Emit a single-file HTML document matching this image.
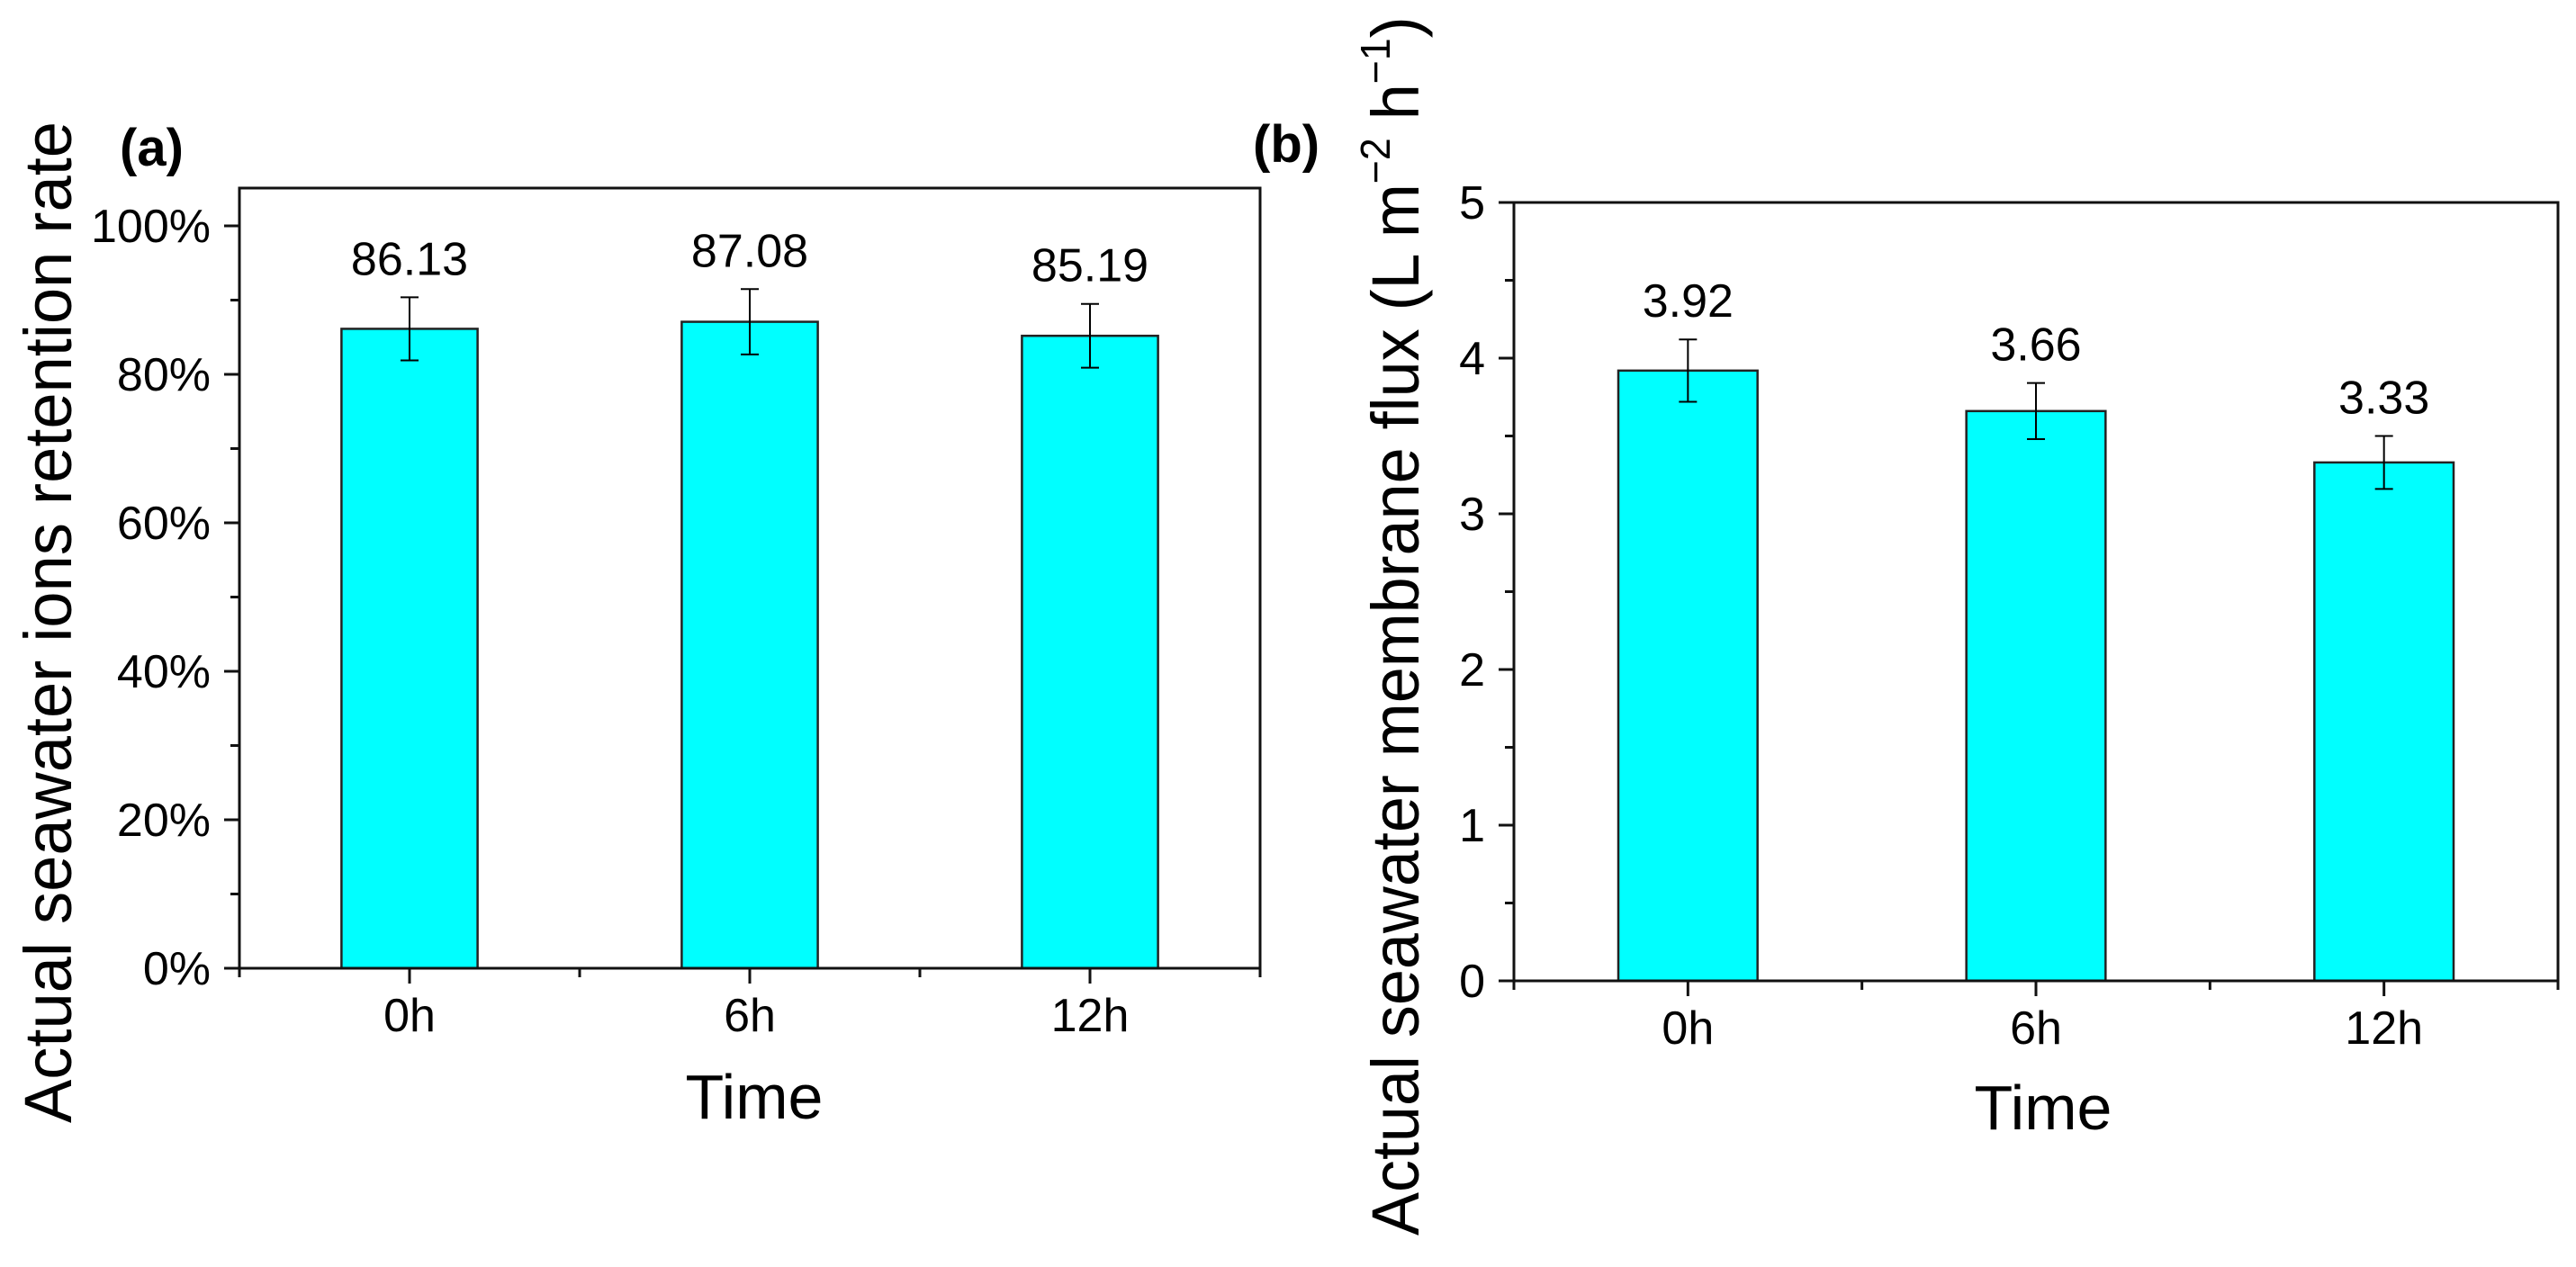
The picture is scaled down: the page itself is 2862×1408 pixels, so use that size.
<!DOCTYPE html>
<html><head><meta charset="utf-8"><style>
html,body{margin:0;padding:0;background:#fff;}
svg{display:block;font-family:"Liberation Sans",Arial,sans-serif;}
</style></head><body>
<svg id="fig" width="2862" height="1408" viewBox="0 0 2862 1408" xmlns="http://www.w3.org/2000/svg">
<text x="133" y="184" font-size="58" font-weight="bold">(a)</text>
<text x="1392" y="180" font-size="58" font-weight="bold">(b)</text>
<text transform="translate(79,1248) rotate(-90)" font-size="74" textLength="1113" lengthAdjust="spacingAndGlyphs">Actual seawater ions retention rate</text>
<g transform="translate(1576,1373) rotate(-90)"><text id="ytb" font-size="74">Actual seawater membrane flux (L m<tspan font-size="46" dy="-32">−2</tspan><tspan dy="32"> h</tspan><tspan font-size="46" dy="-32">−1</tspan><tspan dy="32">)</tspan></text></g>
<text x="838" y="1243" font-size="70" text-anchor="middle">Time</text>
<text x="2270" y="1255" font-size="70" text-anchor="middle">Time</text>
<g id="pa"></g><g id="pb"></g>
</svg>
<script>
const categories = ["0h", "6h", "12h"];
const retentionValues = [86.13, 87.08, 85.19];
const retentionErrors = [4.25, 4.4, 4.3];
const retentionLabels = ["86.13", "87.08", "85.19"];
const retentionTicks = [0, 20, 40, 60, 80, 100];
const retentionTickLabels = ["0%", "20%", "40%", "60%", "80%", "100%"];
const fluxValues = [3.92, 3.66, 3.33];
const fluxErrors = [0.2, 0.18, 0.17];
const fluxLabels = ["3.92", "3.66", "3.33"];
const fluxTicks = [0, 1, 2, 3, 4, 5];
const fluxTickLabels = ["0", "1", "2", "3", "4", "5"];

const NS = "http://www.w3.org/2000/svg";
function mk(parent, tag, attrs, text) {
  const e = document.createElementNS(NS, tag);
  for (const k in attrs) e.setAttribute(k, attrs[k]);
  if (text !== undefined) e.textContent = text;
  parent.appendChild(e);
  return e;
}

function drawPanel(g, cfg) {
  const {x0, x1, yMin, yAxisTop, yZeroPx, yPerUnit, vals, errs, labels, ticks, tickLabels, minorStep, pre} = cfg;
  const y = v => yZeroPx - (v - yMin) * yPerUnit;
  const n = categories.length;
  const band = (x1 - x0) / n;
  const xc = i => x0 + band * (i + 0.5);
  const bw = band * 0.4;
  vals.forEach((v, i) => {
    const r = mk(g, "rect", {x: xc(i) - bw / 2, y: y(v), width: bw, height: y(yMin) - y(v), fill: "#00ffff", stroke: "#222", "stroke-width": 2.5});
    
    
    const eT = y(v + errs[i]), eB = y(v - errs[i]);
    const eb = mk(g, "path", {d: `M${xc(i)} ${eT}V${eB}M${xc(i)-10} ${eT}H${xc(i)+10}M${xc(i)-10} ${eB}H${xc(i)+10}`, stroke: "#000", "stroke-width": 2, fill: "none"});
    
    
    const t = mk(g, "text", {x: xc(i), y: eT - 25, "font-size": 52, "text-anchor": "middle"}, labels[i]);
    
    
  });
  const fr = mk(g, "rect", {x: x0, y: yAxisTop, width: x1 - x0, height: y(yMin) - yAxisTop, fill: "none", stroke: "#111", "stroke-width": 3});
  
  
  ticks.forEach((tv, i) => {
    mk(g, "line", {x1: x0 - 17, x2: x0, y1: y(tv), y2: y(tv), stroke: "#111", "stroke-width": 3});
    const t = mk(g, "text", {x: x0 - 32, y: y(tv) + 18, "font-size": 52, "text-anchor": "end"}, tickLabels[i]);
    
    
    if (i < ticks.length - 1) {
      const m = tv + minorStep;
      mk(g, "line", {x1: x0 - 10, x2: x0, y1: y(m), y2: y(m), stroke: "#111", "stroke-width": 3});
    }
  });
  const yb = y(yMin);
  for (let i = 0; i <= n; i++) {
    mk(g, "line", {x1: x0 + band * i, x2: x0 + band * i, y1: yb, y2: yb + 10, stroke: "#111", "stroke-width": 3});
  }
  categories.forEach((c, i) => {
    mk(g, "line", {x1: xc(i), x2: xc(i), y1: yb, y2: yb + 17, stroke: "#111", "stroke-width": 3});
    const t = mk(g, "text", {x: xc(i), y: yb + 70, "font-size": 52, "text-anchor": "middle"}, c);
    
    
  });
}

drawPanel(document.getElementById("pa"), {
  x0: 266, x1: 1400, yAxisTop: 209, yMin: 0, yZeroPx: 1076, yPerUnit: 8.25,
  vals: retentionValues, errs: retentionErrors, labels: retentionLabels,
  ticks: retentionTicks, tickLabels: retentionTickLabels, minorStep: 10, pre: "retention"
});
drawPanel(document.getElementById("pb"), {
  x0: 1682, x1: 2842, yAxisTop: 225, yMin: 0, yZeroPx: 1090, yPerUnit: 173,
  vals: fluxValues, errs: fluxErrors, labels: fluxLabels,
  ticks: fluxTicks, tickLabels: fluxTickLabels, minorStep: 0.5, pre: "flux"
});
document.getElementById("pa");
document.getElementById("pa");
document.getElementById("pb");
document.getElementById("pb");

const ytb = document.getElementById("ytb");
const w = ytb.getBBox().width;
if (w > 0) ytb.setAttribute("transform", "scale(" + (1355 / w) + ",1)");
</script>
</body></html>
